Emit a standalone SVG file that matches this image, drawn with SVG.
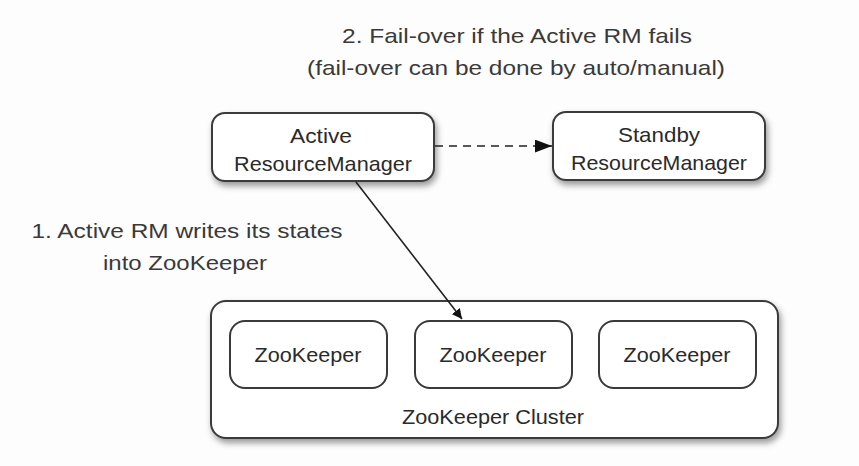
<svg xmlns="http://www.w3.org/2000/svg" width="859" height="466" viewBox="0 0 859 466">
<defs>
<style>
.box{fill:#fff;stroke:#3a3a3a;stroke-width:2}
.t{font-family:"Liberation Sans",Arial,sans-serif;font-size:21px;fill:#2a2a2a;text-anchor:middle}
.lbl{font-family:"Liberation Sans",Arial,sans-serif;font-size:21px;fill:#3a3a3a;text-anchor:middle}
.edge{stroke:#222;stroke-width:1.6;fill:none}
</style>
<filter id="sh" x="-10%" y="-10%" width="125%" height="140%">
<feDropShadow dx="2" dy="4" stdDeviation="3" flood-color="#000" flood-opacity="0.4"/>
</filter>
<marker id="ah" viewBox="0 0 10 10" refX="10" refY="5" markerWidth="10" markerHeight="10" markerUnits="userSpaceOnUse" orient="auto">
<path d="M0,0 L10,5 L0,10 z" fill="#111"/>
</marker>
<marker id="ah2" viewBox="0 0 16 12" refX="16" refY="6" markerWidth="17" markerHeight="13" markerUnits="userSpaceOnUse" orient="auto">
<path d="M0,0 L16,6 L0,12 z" fill="#111"/>
</marker>
</defs>
<rect width="859" height="466" fill="#fdfdfd"/>

<g id="label-failover">
<text class="lbl" x="517" y="43" textLength="350" lengthAdjust="spacingAndGlyphs">2. Fail-over if the Active RM fails</text>
<text class="lbl" x="516" y="75" textLength="418" lengthAdjust="spacingAndGlyphs">(fail-over can be done by auto/manual)</text>
</g>
<g id="label-write">
<text class="lbl" x="187" y="238" textLength="311" lengthAdjust="spacingAndGlyphs">1. Active RM writes its states</text>
<text class="lbl" x="185" y="270" textLength="164" lengthAdjust="spacingAndGlyphs">into ZooKeeper</text>
</g>

<g id="active-rm">
<rect class="box" x="212" y="113" width="222" height="68" rx="13" filter="url(#sh)"/>
<text class="t" x="321" y="143" textLength="62" lengthAdjust="spacingAndGlyphs">Active</text>
<text class="t" x="323" y="171" textLength="178" lengthAdjust="spacingAndGlyphs">ResourceManager</text>
</g>
<g id="standby-rm">
<rect class="box" x="553" y="112" width="212" height="68" rx="13" filter="url(#sh)"/>
<text class="t" x="659" y="142" textLength="82" lengthAdjust="spacingAndGlyphs">Standby</text>
<text class="t" x="659" y="170" textLength="176" lengthAdjust="spacingAndGlyphs">ResourceManager</text>
</g>
<g id="zk-cluster">
<rect class="box" x="211" y="301" width="567" height="137" rx="15" filter="url(#sh)"/>
<text class="t" x="493" y="424" textLength="182" lengthAdjust="spacingAndGlyphs">ZooKeeper Cluster</text>
</g>
<g id="zk1">
<rect class="box" x="230" y="321" width="157" height="67" rx="15"/>
<text class="t" x="308" y="362" textLength="107" lengthAdjust="spacingAndGlyphs">ZooKeeper</text>
</g>
<g id="zk2">
<rect class="box" x="415" y="321" width="157" height="67" rx="15"/>
<text class="t" x="493" y="362" textLength="107" lengthAdjust="spacingAndGlyphs">ZooKeeper</text>
</g>
<g id="zk3">
<rect class="box" x="599" y="321" width="157" height="67" rx="15"/>
<text class="t" x="677" y="362" textLength="107" lengthAdjust="spacingAndGlyphs">ZooKeeper</text>
</g>

<g id="connectors">
<line class="edge" x1="435" y1="146" x2="552" y2="146" stroke-dasharray="8,6" stroke="#666" marker-end="url(#ah2)"/>
<line class="edge" x1="356" y1="182" x2="462" y2="319" marker-end="url(#ah)"/>
</g>
</svg>
